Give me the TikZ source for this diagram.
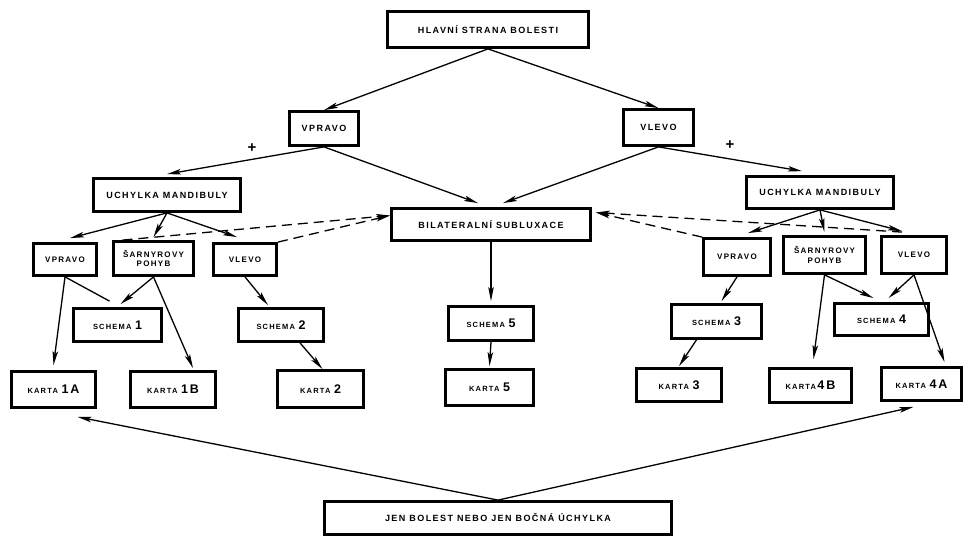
\documentclass[tikz,border=0pt]{standalone}
\usepackage{fontspec}
\usetikzlibrary{arrows.meta}
\newfontfamily\lab[LetterSpace=16]{Liberation Sans}
\newcommand\txs[1]{{\fontsize{7.5}{8}\selectfont #1}}
\newcommand\txb[1]{{\fontsize{12.5}{13}\selectfont #1}}
\tikzset{
  box/.style={draw, line width=2.8pt, inner sep=1pt, align=center,
    font=\lab\bfseries\fontsize{9}{10.5}\selectfont},
  sbox/.style={box, font=\lab\bfseries\fontsize{8}{9.5}\selectfont},
  arr/.style={line width=1.3pt, -{Stealth[length=14pt,width=5.5pt,inset=3pt]}},
  plain/.style={line width=1.3pt},
  dsh/.style={arr, dash pattern=on 10pt off 6pt},
  plus/.style={font=\lab\bfseries\fontsize{15}{15}\selectfont, inner sep=0pt}
}
\begin{document}
\begin{tikzpicture}[x=1pt,y=-1pt]
\useasboundingbox (0,0) rectangle (967,537);
% boxes
\node[box, minimum width=201, minimum height=36] (main) at (488,29.5) {HLAVNÍ STRANA BOLESTI};
\node[box, minimum width=69, minimum height=34] (vpR) at (324,128.5) {VPRAVO};
\node[box, minimum width=70, minimum height=36] (vlT) at (658.5,127.5) {VLEVO};
\node[box, minimum width=147, minimum height=33] (uchL) at (167,195) {UCHYLKA MANDIBULY};
\node[box, minimum width=147, minimum height=32] (uchR) at (820,192.5) {UCHYLKA MANDIBULY};
\node[box, minimum width=199, minimum height=32] (bil) at (491,224.5) {BILATERALNÍ SUBLUXACE};
\node[sbox, minimum width=63, minimum height=32] (lvp) at (65,259.5) {VPRAVO};
\node[sbox, minimum width=80, minimum height=34] (lsa) at (153.5,258.5) {ŠARNYROVY\\POHYB};
\node[sbox, minimum width=63, minimum height=32] (lvl) at (245,259.5) {VLEVO};
\node[sbox, minimum width=67, minimum height=37] (rvp) at (737,257) {VPRAVO};
\node[sbox, minimum width=82, minimum height=37] (rsa) at (824.5,255) {ŠARNYROVY\\POHYB};
\node[sbox, minimum width=65, minimum height=37] (rvl) at (914,255) {VLEVO};
\node[sbox, minimum width=88, minimum height=33] (s1) at (117.5,325) {\txs{SCHEMA}\ \txb{1}};
\node[sbox, minimum width=85, minimum height=33] (s2) at (281,325) {\txs{SCHEMA}\ \txb{2}};
\node[sbox, minimum width=85, minimum height=34] (s5) at (491,323.5) {\txs{SCHEMA}\ \txb{5}};
\node[sbox, minimum width=90, minimum height=34] (s3) at (716.5,321.5) {\txs{SCHEMA}\ \txb{3}};
\node[sbox, minimum width=94, minimum height=32] (s4) at (881.5,319.5) {\txs{SCHEMA}\ \txb{4}};
\node[sbox, minimum width=84, minimum height=36] (k1a) at (53.5,389.5) {\txs{KARTA}\ \txb{1A}};
\node[sbox, minimum width=85, minimum height=36] (k1b) at (173,389.5) {\txs{KARTA}\ \txb{1B}};
\node[sbox, minimum width=86, minimum height=37] (k2) at (320.5,389) {\txs{KARTA}\ \txb{2}};
\node[sbox, minimum width=88, minimum height=36] (k5) at (489.5,387.5) {\txs{KARTA}\ \txb{5}};
\node[sbox, minimum width=85, minimum height=33] (k3) at (679,385) {\txs{KARTA}\ \txb{3}};
\node[sbox, minimum width=82, minimum height=34] (k4b) at (810.5,385.5) {\txs{KARTA}\,\txb{4B}};
\node[sbox, minimum width=80, minimum height=33] (k4a) at (921.5,384) {\txs{KARTA}\ \txb{4A}};
\node[box, minimum width=347, minimum height=33] (jen) at (498,518) {JEN BOLEST NEBO JEN BOČNÁ ÚCHYLKA};
% plus signs
\node[plus] (plusL) at (252,148) {+};
\node[plus] (plusR) at (730,145) {+};
% top level
\draw[arr] (main.south) -- (vpR.north);
\draw[arr] (main.south) -- (vlT.north);
\draw[arr] (vpR.south) -- ([yshift=3pt]uchL.north);
\draw[arr] (vpR.south) -- ([xshift=-13pt,yshift=4pt]bil.north);
\draw[arr] (vlT.south) -- ([xshift=12pt,yshift=4pt]bil.north);
\draw[arr] (vlT.south) -- ([xshift=-18pt,yshift=4pt]uchR.north);
% left mandibula
\draw[arr] (uchL.south) -- ([xshift=5pt,yshift=4pt]lvp.north);
\draw[arr] (uchL.south) -- ([yshift=3pt]lsa.north);
\draw[arr] (uchL.south) -- ([xshift=-8pt,yshift=5pt]lvl.north);
\draw[dsh] ([xshift=-31pt]lsa.north) -- ([yshift=9pt]bil.west);
\draw[dsh] (lvl.north east) -- ([yshift=9pt]bil.west);
% right mandibula
\draw[arr] (uchR.south) -- ([xshift=11pt,yshift=4pt]rvp.north);
\draw[arr] (uchR.south) -- ([yshift=3pt]rsa.north);
\draw[arr] (uchR.south) -- ([xshift=-12pt,yshift=4pt]rvl.north);
\draw[dsh] (rvp.north west) -- ([yshift=12pt,xshift=4pt]bil.east);
\draw[dsh] ([xshift=-12pt,yshift=3pt]rvl.north) -- ([yshift=12pt,xshift=4pt]bil.east);
% left lower
\draw[arr] (lvp.south) -- ([yshift=5pt]k1a.north);
\draw[plain] (lvp.south) -- ([xshift=-8pt,yshift=6pt]s1.north);
\draw[arr] (lsa.south) -- ([xshift=3pt,yshift=3pt]s1.north);
\draw[arr] (lsa.south) -- ([xshift=20pt,yshift=2pt]k1b.north);
\draw[arr] (lvl.south) -- ([xshift=-13pt,yshift=2pt]s2.north);
\draw[arr] ([xshift=19pt]s2.south) -- ([xshift=2pt]k2.north);
% centre
\draw[arr] (bil.south) -- ([yshift=4pt]s5.north);
\draw[arr] (s5.south) -- ([yshift=2pt]k5.north);
% right lower
\draw[arr] (rvp.south) -- ([xshift=5pt,yshift=2pt]s3.north);
\draw[arr] ([xshift=-20pt]s3.south) -- ([yshift=1pt]k3.north);
\draw[arr] (rsa.south) -- ([xshift=3pt,yshift=8pt]k4b.north);
\draw[arr] (rsa.south) -- ([xshift=-8pt,yshift=4pt]s4.north);
\draw[arr] (rvl.south) -- ([xshift=7pt,yshift=4pt]s4.north);
\draw[arr] (rvl.south) -- ([xshift=23pt,yshift=4pt]k4a.north);
% bottom
\draw[arr] (jen.north) -- ([xshift=24pt,yshift=-8pt]k1a.south);
\draw[arr] (jen.north) -- ([xshift=-8pt,yshift=-5pt]k4a.south);
\end{tikzpicture}
\end{document}
